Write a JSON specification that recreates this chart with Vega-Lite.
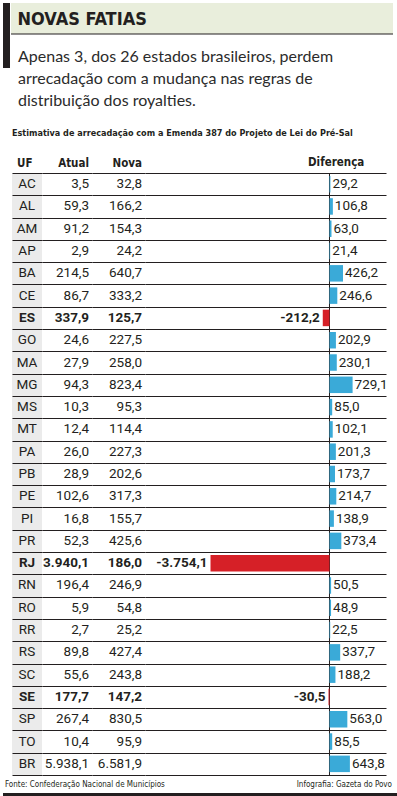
{
  "$schema": "https://vega.github.io/schema/vega-lite/v6.json",
  "padding": {"left": 3, "top": 3, "right": 0, "bottom": 0},
  "background": "white",
  "config": {
    "view": {"stroke": null},
    "locale": {"number": {"decimal": ",", "thousands": ".", "grouping": [3], "currency": ["R$", ""], "minus": "-"}},
    "title": {"color": "#231f20"}
  },
  "datasets": {
    "uf": [
      {"UF": "AC", "Atual": 3.5, "Nova": 32.8, "Diferenca": 29.2},
      {"UF": "AL", "Atual": 59.3, "Nova": 166.2, "Diferenca": 106.8},
      {"UF": "AM", "Atual": 91.2, "Nova": 154.3, "Diferenca": 63.0},
      {"UF": "AP", "Atual": 2.9, "Nova": 24.2, "Diferenca": 21.4},
      {"UF": "BA", "Atual": 214.5, "Nova": 640.7, "Diferenca": 426.2},
      {"UF": "CE", "Atual": 86.7, "Nova": 333.2, "Diferenca": 246.6},
      {"UF": "ES", "Atual": 337.9, "Nova": 125.7, "Diferenca": -212.2},
      {"UF": "GO", "Atual": 24.6, "Nova": 227.5, "Diferenca": 202.9},
      {"UF": "MA", "Atual": 27.9, "Nova": 258.0, "Diferenca": 230.1},
      {"UF": "MG", "Atual": 94.3, "Nova": 823.4, "Diferenca": 729.1},
      {"UF": "MS", "Atual": 10.3, "Nova": 95.3, "Diferenca": 85.0},
      {"UF": "MT", "Atual": 12.4, "Nova": 114.4, "Diferenca": 102.1},
      {"UF": "PA", "Atual": 26.0, "Nova": 227.3, "Diferenca": 201.3},
      {"UF": "PB", "Atual": 28.9, "Nova": 202.6, "Diferenca": 173.7},
      {"UF": "PE", "Atual": 102.6, "Nova": 317.3, "Diferenca": 214.7},
      {"UF": "PI", "Atual": 16.8, "Nova": 155.7, "Diferenca": 138.9},
      {"UF": "PR", "Atual": 52.3, "Nova": 425.6, "Diferenca": 373.4},
      {"UF": "RJ", "Atual": 3940.1, "Nova": 186.0, "Diferenca": -3754.1},
      {"UF": "RN", "Atual": 196.4, "Nova": 246.9, "Diferenca": 50.5},
      {"UF": "RO", "Atual": 5.9, "Nova": 54.8, "Diferenca": 48.9},
      {"UF": "RR", "Atual": 2.7, "Nova": 25.2, "Diferenca": 22.5},
      {"UF": "RS", "Atual": 89.8, "Nova": 427.4, "Diferenca": 337.7},
      {"UF": "SC", "Atual": 55.6, "Nova": 243.8, "Diferenca": 188.2},
      {"UF": "SE", "Atual": 177.7, "Nova": 147.2, "Diferenca": -30.5},
      {"UF": "SP", "Atual": 267.4, "Nova": 830.5, "Diferenca": 563.0},
      {"UF": "TO", "Atual": 10.4, "Nova": 95.9, "Diferenca": 85.5},
      {"UF": "BR", "Atual": 5938.1, "Nova": 6581.9, "Diferenca": 643.8}
    ]
  },
  "spacing": 4,
  "vconcat": [
    {
      "spacing": 0,
      "hconcat": [
        {
          "width": 7, "height": 65,
          "view": {"fill": "#231f20", "stroke": null},
          "data": {"values": [{"t": ""}]},
          "mark": "text",
          "encoding": {"text": {"field": "t"}}
        },
        {
          "spacing": 14,
          "vconcat": [
            {
              "width": 382, "height": 31,
              "view": {"fill": "#e9eedc", "stroke": null},
              "title": {"text": "NOVAS FATIAS", "anchor": "start", "offset": -26, "dx": 7, "fontSize": 18, "font": "Liberation Sans Narrow, DejaVu Sans Condensed, sans-serif", "fontWeight": "bold", "color": "#231f20"},
              "data": {"values": [{"t": ""}]},
              "mark": {"type": "rule", "color": "#231f20", "strokeWidth": 1},
              "encoding": {"y": {"value": "height"}}
            },
            {
              "width": 382, "height": 14,
              "title": {
                "text": ["Apenas 3, dos 26 estados brasileiros, perdem", "arrecadação com a mudança nas regras de", "distribuição dos royalties."],
                "anchor": "start", "dx": 7, "offset": 2, "fontSize": 16, "lineHeight": 22, "font": "Lato", "fontWeight": "normal", "color": "#2b2b2b"
              },
              "data": {"values": [{"t": ""}]},
              "mark": "text",
              "encoding": {"text": {"field": "t"}}
            }
          ]
        }
      ]
    },
    {
      "title": {"text": "Estimativa de arrecadação com a Emenda 387 do Projeto de Lei do Pré-Sal", "anchor": "start", "dx": 9, "offset": 19, "fontSize": 9, "font": "Liberation Sans Narrow, DejaVu Sans Condensed, sans-serif", "fontWeight": "bold", "color": "#231f20"},
      "spacing": 0,
      "data": {"name": "uf"},
      "hconcat": [
        {
          "width": 9, "height": 602,
          "mark": "text",
          "encoding": {"text": {"value": ""}}
        },
        {
          "width": 30, "height": 602,
          "view": {"fill": "#ebebeb", "stroke": null},
          "title": {"text": "UF", "anchor": "start", "dx": 5, "offset": 4, "fontSize": 11.5, "font": "Liberation Sans Narrow, DejaVu Sans Condensed, sans-serif", "fontWeight": "bold"},
          "mark": {"type": "text", "fontSize": 13.5, "font": "Roboto", "color": "#231f20", "fontWeight": {"expr": "datum.Diferenca < 0 ? 'bold' : 'normal'"}},
          "encoding": {
            "y": {"field": "UF", "type": "nominal", "sort": null, "scale": {"paddingInner": 0, "paddingOuter": 0}, "axis": {"title": null, "labels": false, "ticks": false, "domain": false, "grid": true, "tickBand": "extent", "gridColor": "#231f20", "gridWidth": 1, "gridOpacity": 1}},
            "text": {"field": "UF"}
          }
        },
        {
          "width": 50, "height": 602,
          "title": {"text": "Atual", "anchor": "end", "dx": -3, "offset": 4, "fontSize": 11.5, "font": "Liberation Sans Narrow, DejaVu Sans Condensed, sans-serif", "fontWeight": "bold"},
          "mark": {"type": "text", "align": "right", "x": "width", "dx": -3, "fontSize": 13.5, "font": "Roboto", "color": "#231f20", "fontWeight": {"expr": "datum.Diferenca < 0 ? 'bold' : 'normal'"}},
          "encoding": {
            "y": {"field": "UF", "type": "nominal", "sort": null, "scale": {"paddingInner": 0, "paddingOuter": 0}, "axis": {"title": null, "labels": false, "ticks": false, "domain": false, "grid": true, "tickBand": "extent", "gridColor": "#231f20", "gridWidth": 1, "gridOpacity": 1}},
            "text": {"field": "Atual", "type": "quantitative", "format": ",.1f"}
          }
        },
        {
          "width": 53, "height": 602,
          "title": {"text": "Nova", "anchor": "end", "dx": -3, "offset": 4, "fontSize": 11.5, "font": "Liberation Sans Narrow, DejaVu Sans Condensed, sans-serif", "fontWeight": "bold"},
          "mark": {"type": "text", "align": "right", "x": "width", "dx": -3, "fontSize": 13.5, "font": "Roboto", "color": "#231f20", "fontWeight": {"expr": "datum.Diferenca < 0 ? 'bold' : 'normal'"}},
          "encoding": {
            "y": {"field": "UF", "type": "nominal", "sort": null, "scale": {"paddingInner": 0, "paddingOuter": 0}, "axis": {"title": null, "labels": false, "ticks": false, "domain": false, "grid": true, "tickBand": "extent", "gridColor": "#231f20", "gridWidth": 1, "gridOpacity": 1}},
            "text": {"field": "Nova", "type": "quantitative", "format": ",.1f"}
          }
        },
        {
          "width": 241, "height": 602,
          "title": {"text": "Diferença", "anchor": "start", "dx": 163, "offset": 4, "fontSize": 11.5, "font": "Liberation Sans Narrow, DejaVu Sans Condensed, sans-serif", "fontWeight": "bold"},
          "layer": [
            {
              "data": {"values": [{"zero": 0}]},
              "mark": {"type": "rule", "color": "#231f20", "strokeWidth": 1},
              "encoding": {"x": {"datum": 0, "type": "quantitative", "scale": {"domain": [-5821, 1783], "nice": false, "zero": false}, "axis": null}}
            },
            {
              "mark": {"type": "bar", "height": {"band": 0.74}},
              "encoding": {
                "y": {"field": "UF", "type": "nominal", "sort": null, "scale": {"paddingInner": 0, "paddingOuter": 0}, "axis": {"title": null, "labels": false, "ticks": false, "domain": false, "grid": true, "tickBand": "extent", "gridColor": "#231f20", "gridWidth": 1, "gridOpacity": 1}},
                "x": {"field": "Diferenca", "type": "quantitative"},
                "color": {"condition": {"test": "datum.Diferenca < 0", "value": "#d62027"}, "value": "#3aaad8"}
              }
            },
            {
              "mark": {"type": "text", "fontSize": 13.5, "font": "Roboto", "color": "#231f20",
                "align": {"expr": "datum.Diferenca < 0 ? 'right' : 'left'"},
                "dx": {"expr": "datum.Diferenca < 0 ? -3 : 2"},
                "fontWeight": {"expr": "datum.Diferenca < 0 ? 'bold' : 'normal'"}},
              "encoding": {
                "y": {"field": "UF", "type": "nominal", "sort": null},
                "x": {"field": "Diferenca", "type": "quantitative"},
                "text": {"field": "Diferenca", "type": "quantitative", "format": ",.1f"}
              }
            }
          ]
        }
      ]
    },
    {
      "spacing": 0,
      "hconcat": [
        {
          "width": 203, "height": 7,
          "view": {"fill": "#231f20", "stroke": null},
          "title": {"text": "Fonte: Confederação Nacional de Municípios", "anchor": "start", "dx": 2, "offset": 2, "fontSize": 8, "font": "Liberation Sans Narrow, DejaVu Sans Condensed, sans-serif", "fontWeight": "normal"},
          "data": {"values": [{"t": ""}]},
          "mark": "text",
          "encoding": {"text": {"field": "t"}}
        },
        {
          "width": 191, "height": 7,
          "view": {"fill": "#231f20", "stroke": null},
          "title": {"text": "Infografia: Gazeta do Povo", "anchor": "end", "dx": -5, "offset": 2, "fontSize": 8, "font": "Liberation Sans Narrow, DejaVu Sans Condensed, sans-serif", "fontWeight": "normal"},
          "data": {"values": [{"t": ""}]},
          "mark": "text",
          "encoding": {"text": {"field": "t"}}
        }
      ]
    }
  ]
}
